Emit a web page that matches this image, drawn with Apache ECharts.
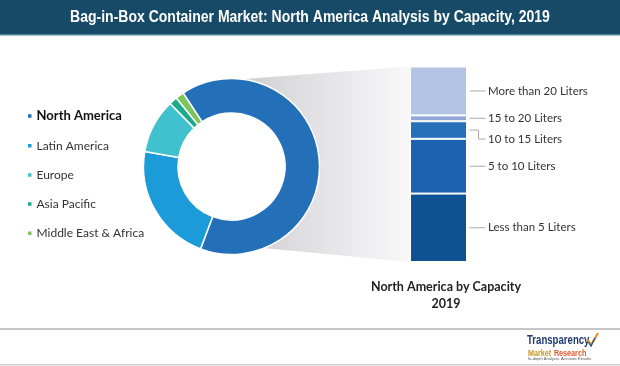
<!DOCTYPE html>
<html>
<head>
<meta charset="utf-8">
<script src="https://cdn.jsdelivr.net/npm/echarts@6/dist/echarts.min.js"></script>
<style>
html,body{margin:0;padding:0;background:#fff;}
#chart{width:620px;height:366px;}
</style>
</head>
<body>
<div id="chart"></div>
<script>
// ---- data ----
const chartTitle = 'Bag-in-Box Container Market: North America Analysis by Capacity, 2019';
const regionNames = ['North America', 'Latin America', 'Europe', 'Asia Pacific', 'Middle East & Africa'];
const regionShares = [65, 22, 10, 1.5, 1.5];
const regionColors = ['#2370b8', '#1b9bd7', '#41c1cd', '#19ab8a', '#7cc45c'];
const barCategories = ['North America'];
const capacityNames = ['Less than 5 Liters', '5 to 10 Liters', '10 to 15 Liters', '15 to 20 Liters', 'More than 20 Liters'];
const capacityShares = [35, 28, 9, 3, 25];
const capacityColors = ['#0e5294', '#1d62ae', '#2470b9', '#8ea6d8', '#b4c4e4'];
const elbowLabel = '10 to 15 Liters';
const barCaption = 'North America by Capacity\n2019';

const chart = echarts.init(document.getElementById('chart'), null, {renderer: 'canvas'});
const FONT = 'Lato, "Open Sans", sans-serif';

const barSeries = capacityNames.map((name, i) => ({
  type: 'bar',
  name: name,
  stack: 'cap',
  barWidth: '100%',
  data: [capacityShares[i]],
  z: 3,
  itemStyle: {color: capacityColors[i], borderColor: '#fff', borderWidth: 1},
  emphasis: {disabled: true},
  silent: true
}));

// label anchors at the middle of each stacked segment
let cum = 0;
const labelData = capacityNames.map((name, i) => {
  const mid = cum + capacityShares[i] / 2;
  cum += capacityShares[i];
  return [0, mid, i];
});

const labelSeries = {
  type: 'custom',
  coordinateSystem: 'cartesian2d',
  z: 5, silent: true,
  encode: {x: 0, y: 1},
  data: labelData,
  renderItem: function (params, api) {
    const p = api.coord([api.value(0), api.value(1)]);
    const name = capacityNames[api.value(2)];
    const right = p[0] + api.size([1, 0])[0] / 2;
    const x0 = right + 2.5;
    let pts, ty = p[1];
    if (name === elbowLabel) {
      ty = p[1] + 9;
      pts = [[x0, p[1]], [x0 + 9, p[1]], [x0 + 9, ty], [x0 + 16, ty]];
    } else {
      pts = [[x0, p[1]], [x0 + 16, p[1]]];
    }
    return {
      type: 'group',
      children: [
        {type: 'polyline', shape: {points: pts}, style: {stroke: '#ababab', lineWidth: 1, fill: null}},
        {type: 'text', style: {x: right + 21, y: ty, text: name, align: 'left', verticalAlign: 'middle',
          fontFamily: FONT, fontSize: 11.5, fill: '#333'}}
      ]
    };
  }
};

const option = {
  animation: false,
  title: [
    {
      text: barCaption, left: 441, top: 273, textAlign: 'center',
      textStyle: {color: '#222', fontFamily: FONT, fontWeight: 'bold', fontSize: 12.5, lineHeight: 17}
    }
  ],
  legend: {
    data: regionNames,
    orient: 'vertical', left: 26, top: 109.5, padding: 0,
    icon: 'rect', itemWidth: 5.5, itemHeight: 5.5, itemGap: 17.2,
    selectedMode: false,
    formatter: n => n === 'North America' ? '{b|' + n + '}' : '{n|' + n + '}',
    textStyle: {
      color: '#222', fontFamily: FONT, padding: [0, 0, 0, -1],
      rich: {
        b: {fontWeight: 'bold', fontSize: 13, color: '#111', fontFamily: FONT, lineHeight: 14},
        n: {fontSize: 12, color: '#333', fontFamily: FONT, lineHeight: 14}
      }
    }
  },
  grid: {left: 410, top: 66.5, width: 57, height: 195.5},
  xAxis: {type: 'category', data: barCategories, show: false},
  yAxis: {type: 'value', min: 0, max: 100, show: false},
  graphic: [
    {type: 'rect', z: 0, shape: {x: 0, y: 0, width: 620, height: 34}, style: {fill: '#174a66'}},
    {type: 'rect', z: 0, shape: {x: 0, y: 34, width: 620, height: 1.5}, style: {fill: '#4d7f95'}},
    {type: 'text', z: 2, x: 310, y: 18, scaleX: 0.875, style: {x: 0, y: 0, text: chartTitle, fill: '#fff',
      align: 'center', verticalAlign: 'middle', font: 'bold 16px "Liberation Sans", Arial, sans-serif'}},
    {type: 'polygon', z: 0, shape: {points: [[231, 80], [410, 66.5], [410, 262], [231, 245]]},
      style: {fill: {type: 'linear', x: 0, y: 0, x2: 1, y2: 0, colorStops: [
        {offset: 0, color: '#cacacd'}, {offset: 0.35, color: '#dddddf'}, {offset: 1, color: '#f8f8f9'}]}}},
    {type: 'circle', z: 1, shape: {cx: 231.5, cy: 166.5, r: 54}, style: {fill: '#fff'}},
    {type: 'rect', z: 0, shape: {x: 0, y: 328, width: 620, height: 2}, style: {fill: '#c6c6c6'}},
    {type: 'rect', z: 0, shape: {x: 0, y: 364, width: 620, height: 1.5}, style: {fill: '#d0d0d0'}},
    {type: 'text', z: 2, x: 527, y: 335, scaleX: 0.8, style: {x: 0, y: 0, text: 'Transparency', fill: '#1f3a6e',
      font: 'bold 12px "Liberation Sans", sans-serif'}},
    {type: 'text', z: 2, x: 528, y: 347.5, scaleX: 0.8, style: {x: 0, y: 0, text: '{m|Market} {r|Research}',
      rich: {m: {fill: '#c8961e', font: 'bold 9px "Liberation Sans", sans-serif'},
             r: {fill: '#e0592a', font: 'bold 9px "Liberation Sans", sans-serif'}}}},
    {type: 'text', z: 2, x: 528, y: 356.5, style: {x: 0, y: 0, text: 'In-depth Analysis. Accurate Results', fill: '#555',
      font: '4px sans-serif'}},
    {type: 'polyline', z: 2, shape: {points: [[587, 339], [591, 345], [598, 333]]},
      style: {stroke: '#e8902a', lineWidth: 2.2, fill: null}},
    {type: 'polyline', z: 2, shape: {points: [[588.5, 342], [591, 346], [595, 338]]},
      style: {stroke: '#1f4f8e', lineWidth: 1.2, fill: null}}
  ],
  series: [
    {
      type: 'pie', z: 3,
      center: [231.5, 166.5], radius: [53.5, 88],
      startAngle: 123.4, clockwise: true,
      label: {show: false}, labelLine: {show: false},
      emphasis: {disabled: true}, silent: true,
      itemStyle: {borderColor: '#fff', borderWidth: 1.5},
      data: regionNames.map((n, i) => ({name: n, value: regionShares[i], itemStyle: {color: regionColors[i]}}))
    }
  ].concat(barSeries, [labelSeries])
};
chart.setOption(option);
</script>
</body>
</html>
